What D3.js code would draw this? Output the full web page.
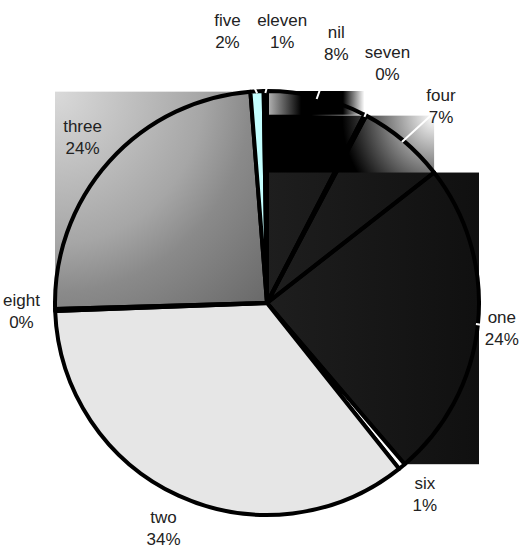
<!DOCTYPE html>
<html>
<head>
<meta charset="utf-8">
<script src="https://cdn.jsdelivr.net/npm/d3@7"></script>
<style>
  html, body { margin: 0; padding: 0; background: #fff; }
  svg { display: block; }
</style>
</head>
<body>
<svg id="chart" width="519" height="548"></svg>
<script>
// slices, clockwise from 12 o'clock
var names = ["nil", "seven", "four", "one", "six", "two", "eight", "three", "five", "eleven"];
// share of the whole
var shares = [7.6, 0.15, 6.7, 24.3, 0.55, 35.1, 0.15, 24.2, 1.0, 0.25];
// percentages as printed under each name
var percents = ["8%", "0%", "7%", "24%", "1%", "34%", "0%", "24%", "2%", "1%"];

var width = 519, height = 548;
var cx = 267, cy = 303, radius = 212, labelR = 248, topLimit = 31;

var svg = d3.select("#chart");
svg.append("rect").attr("width", width).attr("height", height).attr("fill", "#fff");

// gradients used by the slices that paint their whole bounding box
var defs = svg.append("defs");
function linear(id, stops) {
  var g = defs.append("linearGradient").attr("id", id).attr("x1", 0).attr("x2", 1).attr("y1", 0).attr("y2", 0);
  stops.forEach(function(s){ g.append("stop").attr("offset", s[0]).attr("stop-color", s[1]); });
}
function radial(id, fx, fy, r, stops) {
  var g = defs.append("radialGradient").attr("id", id)
    .attr("cx", fx).attr("cy", fy).attr("fx", fx).attr("fy", fy).attr("r", r);
  stops.forEach(function(s){ g.append("stop").attr("offset", s[0]).attr("stop-color", s[1]); });
}
linear("g-nil", [[0, "#b8b8b8"], [0.35, "#000"], [0.78, "#000"], [1, "#fff"]]);
radial("g-four", 1, 0, 0.55, [[0, "#fff"], [1, "#000"]]);
linear("g-one", [[0, "#1e1e1e"], [1, "#101010"]]);
radial("g-three", 0, 0, 1.4, [[0, "#dadada"], [0.5, "#a6a6a6"], [0.66, "#8a8a8a"], [1, "#686868"]]);

var boxFill = { nil: "g-nil", seven: "g-four", four: "g-four", one: "g-one", eight: "g-three", three: "g-three" };
var plainFill = { six: "#ffffff", two: "#e6e6e6", five: "#c4ffff", eleven: "#000000" };

var pie = d3.pie().sort(null).value(function(d){ return d; });
var arcs = pie(shares);
var arc = d3.arc().innerRadius(0).outerRadius(radius);

var g = svg.append("g").attr("transform", "translate(" + cx + "," + cy + ")");

// bounding box of a slice (centre, both ends and any quadrant point on the arc)
function sliceBox(d) {
  var pts = [[0, 0]];
  [d.startAngle, d.endAngle].forEach(function(a){ pts.push([radius * Math.sin(a), -radius * Math.cos(a)]); });
  for (var k = 0; k <= 4; k++) {
    var a = k * Math.PI / 2;
    if (a > d.startAngle && a < d.endAngle) pts.push([radius * Math.sin(a), -radius * Math.cos(a)]);
  }
  var xs = pts.map(function(p){ return p[0]; }), ys = pts.map(function(p){ return p[1]; });
  return { x: d3.min(xs), y: d3.min(ys), w: d3.max(xs) - d3.min(xs), h: d3.max(ys) - d3.min(ys) };
}

g.selectAll("rect.box")
  .data(arcs.filter(function(d, i){ return boxFill[names[i]]; }))
  .enter().append("rect")
  .attr("class", "box")
  .each(function(d){
    var b = sliceBox(d);
    d3.select(this).attr("x", b.x).attr("y", b.y).attr("width", b.w).attr("height", b.h)
      .attr("fill", "url(#" + boxFill[names[d.index]] + ")");
  });

g.selectAll("path.slice")
  .data(arcs)
  .enter().append("path")
  .attr("class", "slice")
  .attr("d", arc)
  .attr("fill", function(d, i){ return plainFill[names[i]] || "none"; })
  .attr("stroke", "#000")
  .attr("stroke-width", 4)
  .attr("stroke-linejoin", "round");

var labels = g.selectAll("text.label")
  .data(arcs.map(function(d, i){
    var a = (d.startAngle + d.endAngle) / 2;
    return { i: i, a: a, bx: labelR * Math.sin(a), by: -labelR * Math.cos(a) };
  }))
  .enter().append("text")
  .attr("class", "label")
  .attr("text-anchor", "middle")
  .style("font-family", "'Liberation Sans', Arial, sans-serif")
  .style("font-size", "17px")
  .attr("fill", "#222");
labels.append("tspan").attr("class", "name").text(function(d){ return names[d.i]; });
labels.append("tspan").attr("class", "pct").text(function(d){ return percents[d.i]; });

// label boxes: start on a ring round the pie; while two overlap, move both
// outward and apart, keeping them on the page
var nodes = labels.data();
labels.each(function(d){
  var t = d3.select(this);
  d.nw = t.select("tspan.name").node().getComputedTextLength();
  d.hw = Math.max(d.nw, t.select("tspan.pct").node().getComputedTextLength()) / 2;
  d.x = d.bx; d.y = d.by;
});
var gap = 16, hh = 22;
function clampNode(n) {
  n.y = Math.max(n.y, topLimit - cy);
  n.x = Math.max(-cx + n.nw / 2 + 3, Math.min(width - cx - n.nw / 2 - 3, n.x));
}
nodes.forEach(clampNode);
for (var it = 0; it < 400; it++) {
  var moved = false;
  for (var p = 0; p < nodes.length; p++) {
    for (var q = p + 1; q < nodes.length; q++) {
      var A = nodes[p], B = nodes[q];
      var dx = B.x - A.x, dy = B.y - A.y;
      if (Math.abs(dx) < A.hw + B.hw + gap && Math.abs(dy) < 2 * hh + gap) {
        var len = Math.hypot(dx, dy) || 1;
        [[A, -1], [B, 1]].forEach(function(e){
          var n = e[0], s = e[1];
          n.x += s * 0.5 * dx / len + Math.sin(n.a);
          n.y += s * 0.5 * dy / len - Math.cos(n.a);
          clampNode(n);
        });
        moved = true;
      }
    }
  }
  if (!moved) break;
}

// white leader lines for the labels that were moved
g.selectAll("line.leader")
  .data(nodes.filter(function(n){ return Math.hypot(n.x - n.bx, n.y - n.by) > 3; }))
  .enter().insert("line", "text")
  .attr("class", "leader")
  .attr("x1", function(d){ return (radius - 2) * Math.sin(d.a); })
  .attr("y1", function(d){ return -(radius - 2) * Math.cos(d.a); })
  .attr("x2", function(d){ return d.x; })
  .attr("y2", function(d){ return d.y; })
  .attr("stroke", "#fff")
  .attr("stroke-width", 2);

labels.selectAll("tspan")
  .attr("x", function(){ return d3.select(this.parentNode).datum().x; });
labels.select("tspan.name").attr("y", function(d){ return d.y - 5; });
labels.select("tspan.pct").attr("y", function(d){ return d.y + 17; });
</script>
</body>
</html>
